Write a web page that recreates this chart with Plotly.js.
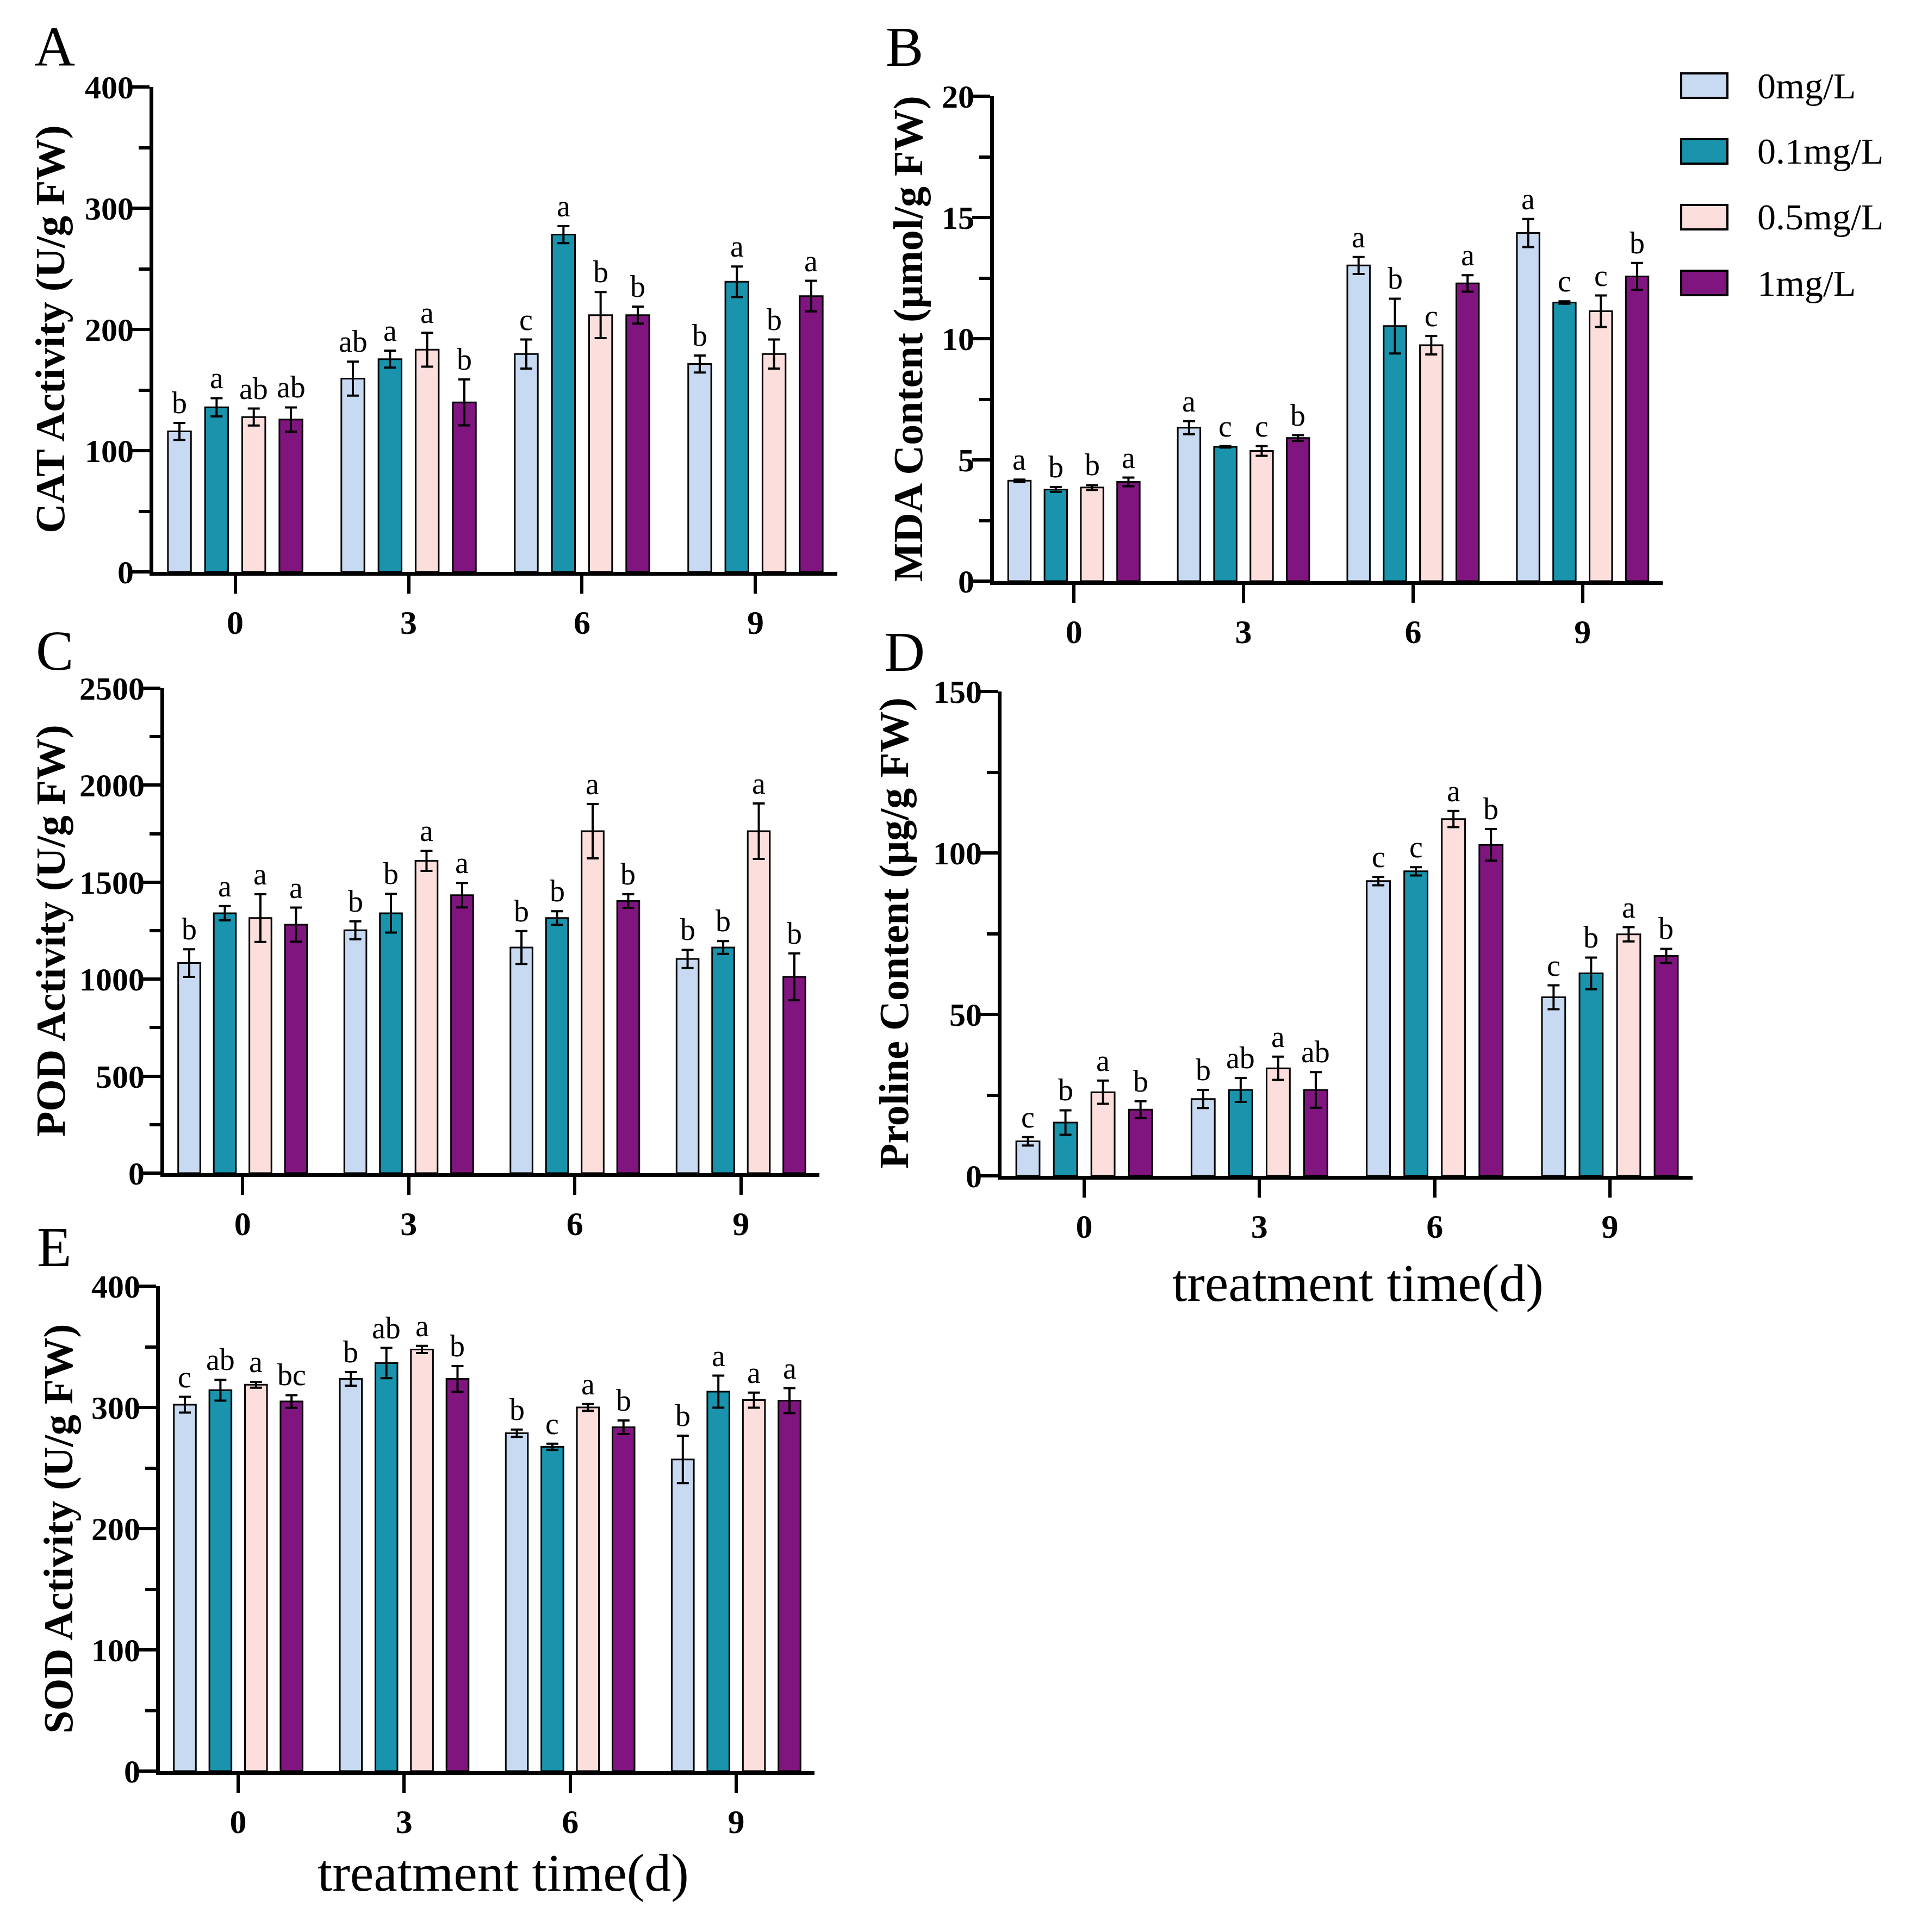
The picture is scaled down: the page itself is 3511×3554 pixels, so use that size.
<!DOCTYPE html>
<html><head><meta charset="utf-8">
<script src="https://cdn.plot.ly/plotly-3.0.1.min.js"></script>
<style>html,body{margin:0;padding:0;background:#fff}</style>
</head><body><div id="chart" style="width:3511px;height:3554px"></div>
<script>
// ---------- data ----------
const timeLabels = ['0', '3', '6', '9'];
const seriesNames = ['0mg/L', '0.1mg/L', '0.5mg/L', '1mg/L'];

// CAT Activity (U/g FW): one row per concentration, columns = treatment time
const catMean = [[115.9, 159.4, 179.7, 171.5], [135.8, 175.5, 278.2, 239.3], [127.7, 183.3, 211.8, 179.7], [125.7, 139.8, 211.8, 227.5]];
const catErr  = [[7, 14, 12, 7], [7.5, 7, 7, 12.6], [7, 14, 19, 12], [10, 19, 7, 12.6]];
const catSig  = [['b', 'ab', 'c', 'b'], ['a', 'a', 'a', 'a'], ['ab', 'a', 'b', 'b'], ['ab', 'b', 'b', 'a']];

// MDA Content (umol/g FW)
const mdaMean = [[4.14, 6.33, 13.02, 14.36], [3.78, 5.54, 10.52, 11.49], [3.86, 5.37, 9.73, 11.13], [4.09, 5.90, 12.28, 12.57]];
const mdaErr  = [[0.05, 0.27, 0.35, 0.58], [0.1, 0.03, 1.13, 0.05], [0.1, 0.2, 0.38, 0.65], [0.18, 0.12, 0.34, 0.55]];
const mdaSig  = [['a', 'a', 'a', 'a'], ['b', 'c', 'b', 'c'], ['b', 'c', 'c', 'c'], ['a', 'b', 'a', 'b']];

// POD Activity (U/g FW)
const podMean = [[1083, 1252, 1163, 1104], [1340, 1340, 1315, 1163], [1315, 1610, 1763, 1763], [1281, 1433, 1403, 1012]];
const podErr  = [[71, 46, 85, 47], [37, 100, 35, 33], [123, 52, 140, 143], [88, 63, 35, 121]];
const podSig  = [['b', 'b', 'b', 'b'], ['a', 'b', 'b', 'b'], ['a', 'a', 'a', 'a'], ['a', 'a', 'b', 'b']];

// Proline Content (ug/g FW)
const proMean = [[10.7, 23.8, 91.3, 55.3], [16.5, 26.6, 94.3, 62.7], [25.9, 33.3, 110.5, 74.8], [20.5, 26.6, 102.5, 68.1]];
const proErr  = [[1.3, 2.8, 1.3, 3.7], [3.8, 3.7, 1.3, 4.9], [3.6, 3.6, 2.5, 2.2], [2.6, 5.5, 4.9, 2.2]];
const proSig  = [['c', 'b', 'c', 'c'], ['b', 'ab', 'c', 'b'], ['a', 'a', 'a', 'a'], ['b', 'ab', 'b', 'b']];

// SOD Activity (U/g FW)
const sodMean = [[302.2, 323.5, 278.7, 257.1], [314.2, 336.6, 267.5, 313], [318.7, 347.8, 300, 306], [304.9, 323.5, 283.6, 305.6]];
const sodErr  = [[6.5, 5.6, 3, 19.6], [8.6, 12.5, 2.6, 13.2], [2.4, 3, 2.8, 6.2], [5.2, 10.6, 5.6, 10.3]];
const sodSig  = [['c', 'b', 'b', 'b'], ['ab', 'ab', 'c', 'a'], ['a', 'a', 'a', 'a'], ['bc', 'b', 'b', 'a']];

// ---------- styles / layout ----------
const colors = ['#C7DAF1', '#1A93AD', '#FCDFDD', '#80157F'];
const W = 3511, H = 3554;
const SERIF = 'Liberation Serif, Times New Roman, serif';
const BARGAP = 0.143, BARGROUPGAP = 0.38;

const panels = [
  {letter: 'A', mean: catMean, err: catErr, sig: catSig, title: 'CAT Activity (U/g FW)', ymax: 400, dtick: 100,
   box: [282, 1540, 160, 1052], tpos: [93, 606], lpos: [100, 86], xtitle: null},
  {letter: 'B', mean: mdaMean, err: mdaErr, sig: mdaSig, title: 'MDA Content (μmol/g FW)', ymax: 20, dtick: 5,
   box: [1828, 3058, 177, 1069], tpos: [1670, 623], lpos: [1663, 86], xtitle: null},
  {letter: 'C', mean: podMean, err: podErr, sig: podSig, title: 'POD Activity (U/g FW)', ymax: 2500, dtick: 500,
   box: [302, 1507, 1266, 2158], tpos: [94, 1712], lpos: [100, 1196], xtitle: null},
  {letter: 'D', mean: proMean, err: proErr, sig: proSig, title: 'Proline Content (μg/g FW)', ymax: 150, dtick: 50,
   box: [1842, 3113, 1272, 2163], tpos: [1645, 1717], lpos: [1663, 1199], xtitle: [2497, 2360]},
  {letter: 'E', mean: sodMean, err: sodErr, sig: sodSig, title: 'SOD Activity (U/g FW)', ymax: 400, dtick: 100,
   box: [294, 1498, 2366, 3258], tpos: [107, 2812], lpos: [100, 2293], xtitle: [925, 3445]}
];

const traces = [];
const annotations = [];
const shapes = [];
const layout = {
  width: W, height: H,
  margin: {l: 0, r: 0, t: 0, b: 0, pad: 0},
  paper_bgcolor: '#ffffff', plot_bgcolor: '#ffffff',
  showlegend: false,
  barmode: 'group', bargap: BARGAP, bargroupgap: BARGROUPGAP,
  font: {family: SERIF, color: '#000000'}
};

const xpos = timeLabels.map((_, i) => i);
const slot = (1 - BARGAP) / seriesNames.length;

panels.forEach((p, k) => {
  const n = k + 1;
  const xa = 'x' + (n === 1 ? '' : n), ya = 'y' + (n === 1 ? '' : n);
  const [x0, x1, yTop, yBot] = p.box;
  layout['xaxis' + (n === 1 ? '' : n)] = {
    domain: [x0 / W, x1 / W], anchor: ya, type: 'linear',
    range: [-0.472, timeLabels.length - 1 + 0.472],
    tickvals: xpos, ticktext: timeLabels,
    ticks: 'outside', ticklen: 33, tickwidth: 6, tickcolor: '#000',
    showline: true, linewidth: 7, linecolor: '#000',
    showgrid: false, zeroline: false, fixedrange: true,
    tickfont: {family: SERIF, size: 62, color: '#000', weight: 'bold'}
  };
  layout['yaxis' + (n === 1 ? '' : n)] = {
    domain: [1 - yBot / H, 1 - yTop / H], anchor: xa,
    range: [0, p.ymax], dtick: p.dtick, tick0: 0, tickformat: 'd',
    ticks: 'outside', ticklen: 33, tickwidth: 6, tickcolor: '#000',
    ticklabelstandoff: -16,
    minor: {dtick: p.dtick / 2, ticks: 'outside', ticklen: 20, tickwidth: 6, tickcolor: '#000', showgrid: false},
    showline: true, linewidth: 7, linecolor: '#000',
    showgrid: false, zeroline: false, fixedrange: true,
    tickfont: {family: SERIF, size: 60, color: '#000', weight: 'bold'}
  };
  seriesNames.forEach((name, s) => {
    traces.push({
      type: 'bar', name: name, x: xpos, y: p.mean[s], xaxis: xa, yaxis: ya,
      marker: {color: colors[s], line: {color: '#000', width: 3}},
      error_y: {type: 'data', array: p.err[s], visible: true, color: '#000', thickness: 4, width: 11},
      showlegend: false, hoverinfo: 'skip'
    });
    p.sig[s].forEach((lab, t) => {
      annotations.push({
        xref: xa, yref: ya, x: t + (s - (seriesNames.length - 1) / 2) * slot,
        y: p.mean[s][t] + p.err[s][t], yanchor: 'bottom', xanchor: 'center', yshift: 4,
        text: lab, showarrow: false, font: {family: SERIF, size: 56, color: '#000'}
      });
    });
  });
  // y axis title
  annotations.push({xref: 'paper', yref: 'paper', x: p.tpos[0] / W, y: 1 - p.tpos[1] / H,
    xanchor: 'center', yanchor: 'middle', textangle: -90, showarrow: false, text: p.title,
    font: {family: SERIF, size: 76, color: '#000', weight: 'bold'}});
  // panel letter
  annotations.push({xref: 'paper', yref: 'paper', x: p.lpos[0] / W, y: 1 - p.lpos[1] / H,
    xanchor: 'center', yanchor: 'middle', showarrow: false, text: p.letter,
    font: {family: SERIF, size: 104, color: '#000'}});
  if (p.xtitle) {
    annotations.push({xref: 'paper', yref: 'paper', x: p.xtitle[0] / W, y: 1 - p.xtitle[1] / H,
      xanchor: 'center', yanchor: 'middle', showarrow: false, text: 'treatment time(d)',
      font: {family: SERIF, size: 98, color: '#000'}});
  }
});

// legend (custom swatches)
const legX0 = 3092, legX1 = 3177, legTextX = 3230, legY0 = 135, legStep = 121, legH = 45;
seriesNames.forEach((name, s) => {
  const yt = legY0 + s * legStep;
  shapes.push({type: 'rect', xref: 'paper', yref: 'paper', x0: legX0 / W, x1: legX1 / W,
    y0: 1 - (yt + legH) / H, y1: 1 - yt / H, fillcolor: colors[s], line: {color: '#000', width: 4}});
  annotations.push({xref: 'paper', yref: 'paper', x: legTextX / W, y: 1 - (yt + legH / 2) / H,
    xanchor: 'left', yanchor: 'middle', showarrow: false, text: name,
    font: {family: SERIF, size: 68, color: '#000'}});
});

layout.annotations = annotations;
layout.shapes = shapes;

Plotly.newPlot('chart', traces, layout, {staticPlot: true, displayModeBar: false});
</script></body></html>
